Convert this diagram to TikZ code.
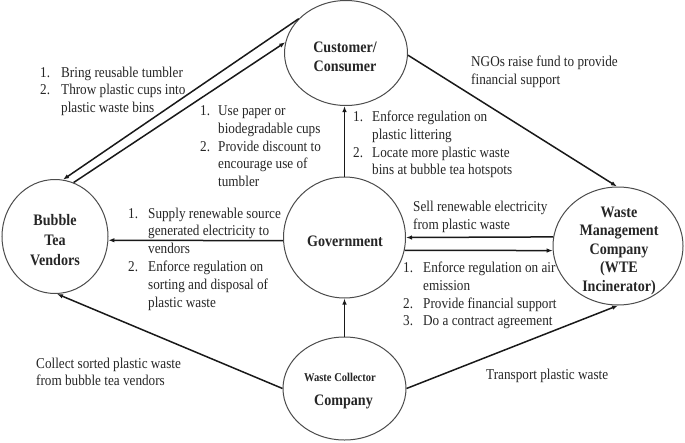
\documentclass[tikz,border=0pt]{standalone}
\usepackage{fontspec}
\setmainfont{Liberation Serif}[FakeStretch=0.88]
\usetikzlibrary{shapes.geometric,arrows.meta}
\begin{document}
\begin{tikzpicture}[x=1pt,y=-1pt,
  ent/.style={ellipse, draw=black!70, line width=1pt, inner sep=0pt},
  arr/.style={-{Latex[length=6pt,width=4.5pt]}, line width=1.5pt, draw=black!90},
  txt/.style={anchor=base west, inner sep=0pt, font=\fontsize{15}{17.8}\selectfont, text=black!85},
  lbl/.style={anchor=base, inner sep=0pt, font=\fontsize{16}{19}\selectfont\bfseries, text=black!85}]
\useasboundingbox[fill=white] (0,0) rectangle (685,442);

% entities
\node[ent, minimum width=123pt, minimum height=105pt] (cust) at (346,53) {};
\node[ent, minimum width=106pt, minimum height=114pt] (vend) at (55,236.5) {};
\node[ent, minimum width=122pt, minimum height=121pt] (gov) at (344.5,237.5) {};
\node[ent, minimum width=130pt, minimum height=118pt] (wmc) at (618,246) {};
\node[ent, minimum width=123pt, minimum height=103pt] (wcc) at (344.5,388.5) {};

% entity labels
\node[lbl] (custlbl) at (345,52) {\begin{tabular}[t]{@{}c@{}}Customer/\\Consumer\end{tabular}};
\node[lbl, font=\fontsize{16}{20}\selectfont\bfseries] (vendlbl) at (55,225) {\begin{tabular}[t]{@{}c@{}}Bubble\\Tea\\Vendors\end{tabular}};
\node[lbl] (govlbl) at (345,246) {Government};
\node[lbl, font=\fontsize{16}{18.5}\selectfont\bfseries] (wmclbl) at (619,217) {\begin{tabular}[t]{@{}c@{}}Waste\\Management\\Company\\(WTE\\Incinerator)\end{tabular}};
\node[lbl, font=\fontsize{12}{14}\selectfont\bfseries] (wcclbla) at (340,381) {Waste Collector};
\node[lbl] (wcclblb) at (343.5,405) {Company};

% connectors
\draw[arr] (cust.144) -- (vend.82);
\draw[arr] (vend.71) -- (cust.170);
\draw[arr] (cust.358) -- (wmc.91);
\draw[arr] (gov.north) -- (gov.north |- cust.south);
\draw[arr] (gov.183.3) -- (vend.-4.9);
\draw[arr] (wmc.172) -- (gov.0.5);
\draw[arr] (gov.-12.8) -- (wmc.184.4);
\draw[arr] (wcc.north) -- (gov.south);
\draw[arr] (wcc.west) -- (vend.272);
\draw[arr] (wcc.east) -- (wmc.270);

% connector texts
\node[txt] (tA) at (40,77) {\begin{tabular}[t]{@{}p{21pt}@{}l@{}}1.&Bring reusable tumbler\\2.&Throw plastic cups into\\&plastic waste bins\end{tabular}};
\node[txt] (tB) at (200,115.5) {\begin{tabular}[t]{@{}p{18pt}@{}l@{}}1.&Use paper or\\&biodegradable cups\\2.&Provide discount to\\&encourage use of\\&tumbler\end{tabular}};
\node[txt] (tC) at (353,121.5) {\begin{tabular}[t]{@{}p{19pt}@{}l@{}}1.&Enforce regulation on\\&plastic littering\\2.&Locate more plastic waste\\&bins at bubble tea hotspots\end{tabular}};
\node[txt] (tN) at (471,66.5) {\begin{tabular}[t]{@{}l@{}}NGOs raise fund to provide\\financial support\end{tabular}};
\node[txt] (tD) at (128,218) {\begin{tabular}[t]{@{}p{20pt}@{}l@{}}1.&Supply renewable source\\&generated electricity to\\&vendors\\2.&Enforce regulation on\\&sorting and disposal of\\&plastic waste\end{tabular}};
\node[txt] (tS) at (413,211.5) {\begin{tabular}[t]{@{}l@{}}Sell renewable electricity\\from plastic waste\end{tabular}};
\node[txt] (tE) at (403,272.5) {\begin{tabular}[t]{@{}p{20pt}@{}l@{}}1.&Enforce regulation on air\\&emission\\2.&Provide financial support\\3.&Do a contract agreement\end{tabular}};
\node[txt] (tK) at (36,368) {\begin{tabular}[t]{@{}l@{}}Collect sorted plastic waste\\from bubble tea vendors\end{tabular}};
\node[txt] (tT) at (486,379) {Transport plastic waste};
\end{tikzpicture}
\end{document}
